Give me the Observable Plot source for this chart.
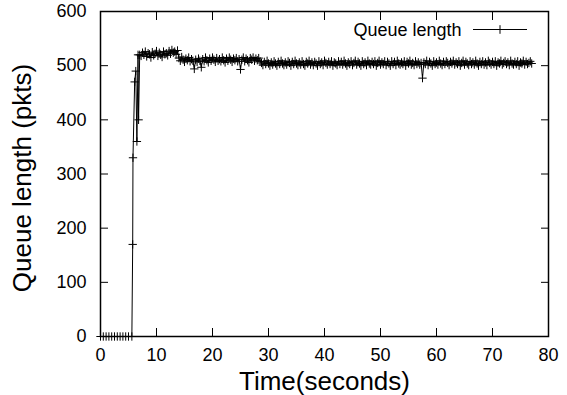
<!DOCTYPE html>
<html><head><meta charset="utf-8">
<script src="https://cdn.jsdelivr.net/npm/d3@7"></script>
<script src="https://cdn.jsdelivr.net/npm/@observablehq/plot@0.6"></script>
<style>body{margin:0;background:#fff} #chart{width:567px;height:395px;overflow:hidden}</style>
</head><body><div id="chart"></div>
<script>
// Time (s) and queue length (pkts)
const times = [
  0,0.5,1,1.5,2,2.5,3,3.5,4,4.5,5,5.6,5.75,5.8,6.1,6.3,6.5,6.7,6.8,7,
  7.25,7.5,7.75,8,8.25,8.5,8.75,9,9.25,9.5,9.75,10,10.25,10.5,10.75,11,11.25,11.5,11.75,12,
  12.25,12.5,12.75,13,13.25,13.5,13.75,14,14.25,14.5,14.75,15,15.25,15.5,15.75,16,16.25,16.5,16.75,17,
  17.25,17.5,17.75,18,18.25,18.5,18.75,19,19.25,19.5,19.75,20,20.25,20.5,20.75,21,21.25,21.5,21.75,22,
  22.25,22.5,22.75,23,23.25,23.5,23.75,24,24.25,24.5,24.75,25,25.25,25.5,25.75,26,26.25,26.5,26.75,27,
  27.25,27.5,27.75,28,28.25,28.5,28.75,29,29.25,29.5,29.75,30,30.25,30.5,30.75,31,31.25,31.5,31.75,32,
  32.25,32.5,32.75,33,33.25,33.5,33.75,34,34.25,34.5,34.75,35,35.25,35.5,35.75,36,36.25,36.5,36.75,37,
  37.25,37.5,37.75,38,38.25,38.5,38.75,39,39.25,39.5,39.75,40,40.25,40.5,40.75,41,41.25,41.5,41.75,42,
  42.25,42.5,42.75,43,43.25,43.5,43.75,44,44.25,44.5,44.75,45,45.25,45.5,45.75,46,46.25,46.5,46.75,47,
  47.25,47.5,47.75,48,48.25,48.5,48.75,49,49.25,49.5,49.75,50,50.25,50.5,50.75,51,51.25,51.5,51.75,52,
  52.25,52.5,52.75,53,53.25,53.5,53.75,54,54.25,54.5,54.75,55,55.25,55.5,55.75,56,56.25,56.5,56.75,57,
  57.25,57.5,57.75,58,58.25,58.5,58.75,59,59.25,59.5,59.75,60,60.25,60.5,60.75,61,61.25,61.5,61.75,62,
  62.25,62.5,62.75,63,63.25,63.5,63.75,64,64.25,64.5,64.75,65,65.25,65.5,65.75,66,66.25,66.5,66.75,67,
  67.25,67.5,67.75,68,68.25,68.5,68.75,69,69.25,69.5,69.75,70,70.25,70.5,70.75,71,71.25,71.5,71.75,72,
  72.25,72.5,72.75,73,73.25,73.5,73.75,74,74.25,74.5,74.75,75,75.25,75.5,75.75,76,76.25,76.5,76.75,77
];
const queue = [
  0,0,0,0,0,0,0,0,0,0,0,0,170,330,470,490,360,520,400,520,
  518,524,520,526,517,523,521,515,525,519,522,527,518,524,520,516,526,521,523,519,
  527,522,529,524,526,521,528,514,509,516,511,507,513,510,515,508,512,509,494,511,
  507,513,509,497,512,508,515,510,506,513,509,515,511,507,514,509,512,508,515,510,
  506,513,509,515,511,507,513,510,514,508,512,493,511,515,508,513,510,506,514,511,
  515,509,513,510,514,508,505,501,507,503,509,504,500,506,502,508,504,500,507,503,
  509,504,501,506,502,508,505,500,507,503,509,504,501,506,502,508,503,500,507,504,
  509,502,506,501,507,504,500,508,503,506,501,509,505,502,507,503,508,500,506,504,
  501,508,503,507,502,509,504,500,506,503,508,501,505,509,502,507,504,500,508,503,
  506,501,509,504,502,507,503,508,500,505,509,502,506,503,508,501,507,504,500,508,
  503,507,501,509,504,502,506,503,508,500,507,504,509,502,505,501,508,503,506,502,
  505,477,506,503,509,501,507,504,500,508,503,506,502,509,504,501,507,503,508,505,
  501,507,504,509,502,506,503,508,500,505,509,502,507,504,501,508,503,506,502,509,
  504,500,507,503,508,502,506,501,509,505,502,507,503,508,500,506,504,509,502,505,
  508,503,506,501,509,504,502,507,503,508,500,506,504,509,502,507,503,505,508,504
];
const xTicks = [0,10,20,30,40,50,60,70,80];
const yTicks = [0,100,200,300,400,500,600];
const seriesLabel = "Queue length";
const xLabel = "Time(seconds)";
const yLabel = "Queue length (pkts)";

const data = times.map((t, i) => ({t, q: queue[i]}));
const font = "'Liberation Sans', Arial, Helvetica, sans-serif";

const chart = Plot.plot({
  width: 567, height: 395,
  marginLeft: 100, marginRight: 19, marginTop: 11, marginBottom: 59,
  style: {fontFamily: font, background: "#fff", color: "#000", overflow: "visible"},
  x: {domain: [0, 80]},
  y: {domain: [0, 600]},
  marks: [
    Plot.line(data, {x: "t", y: "q", stroke: "#000", strokeWidth: 1}),
    Plot.dot(data, {x: "t", y: "q", symbol: "plus", r: 2.8, stroke: "#000", strokeWidth: 1}),
    Plot.axisX(xTicks, {anchor: "bottom", tickSize: 0, tickPadding: 12, fontSize: 18, label: null}),
    Plot.axisY(yTicks, {anchor: "left", tickSize: 0, tickPadding: 14, fontSize: 18, label: null}),
    Plot.axisX(xTicks, {anchor: "bottom", tickSize: -8, fill: "none", label: null}),
    Plot.axisX(xTicks, {anchor: "top", tickSize: -8, fill: "none", label: null}),
    Plot.axisY(yTicks, {anchor: "left", tickSize: -8, fill: "none", label: null}),
    Plot.axisY(yTicks, {anchor: "right", tickSize: -8, fill: "none", label: null}),
    Plot.frame({stroke: "#000", strokeWidth: 1.5}),
    Plot.text([xLabel], {frameAnchor: "bottom", dy: 45, textAnchor: "middle", lineAnchor: "middle", fontSize: 26}),
    Plot.text([yLabel], {frameAnchor: "left", dx: -78, dy: 4, rotate: -90, textAnchor: "middle", lineAnchor: "middle", fontSize: 26}),
    Plot.text([seriesLabel], {frameAnchor: "top-right", dx: -87, dy: 18.5, textAnchor: "end", lineAnchor: "middle", fontSize: 18})
  ]
});
document.getElementById("chart").append(chart);

// legend sample: line with a plus marker
const svg = d3.select(chart);
const g = svg.append("g").attr("stroke", "#000").attr("stroke-width", 1).attr("fill", "none");
g.append("line").attr("x1", 473).attr("x2", 527).attr("y1", 29.5).attr("y2", 29.5);
g.append("path").attr("d", "M495.7,29.5h8.6M500,25.2v8.6");
</script>
</body></html>
